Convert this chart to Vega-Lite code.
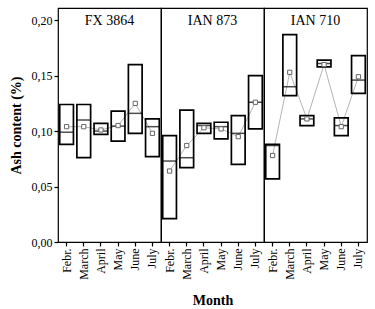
{
  "$schema": "https://vega.github.io/schema/vega-lite/v6.json",
  "padding": {"left": 9, "top": 7, "right": 6, "bottom": 2},
  "bounds": "flush",
  "data": {"values": [
    {"variety": "FX 3864", "month": "Febr.", "q1": 0.088, "q3": 0.124, "median": 0.099, "mean": 0.104},
    {"variety": "FX 3864", "month": "March", "q1": 0.076, "q3": 0.124, "median": 0.110, "mean": 0.104},
    {"variety": "FX 3864", "month": "April", "q1": 0.097, "q3": 0.107, "median": 0.100, "mean": 0.101},
    {"variety": "FX 3864", "month": "May", "q1": 0.091, "q3": 0.118, "median": 0.1045, "mean": 0.105},
    {"variety": "FX 3864", "month": "June", "q1": 0.098, "q3": 0.160, "median": 0.116, "mean": 0.125},
    {"variety": "FX 3864", "month": "July", "q1": 0.077, "q3": 0.111, "median": 0.104, "mean": 0.098},
    {"variety": "IAN 873", "month": "Febr.", "q1": 0.021, "q3": 0.096, "median": 0.073, "mean": 0.064},
    {"variety": "IAN 873", "month": "March", "q1": 0.067, "q3": 0.119, "median": 0.076, "mean": 0.087},
    {"variety": "IAN 873", "month": "April", "q1": 0.098, "q3": 0.107, "median": 0.105, "mean": 0.103},
    {"variety": "IAN 873", "month": "May", "q1": 0.093, "q3": 0.108, "median": 0.104, "mean": 0.102},
    {"variety": "IAN 873", "month": "June", "q1": 0.070, "q3": 0.114, "median": 0.098, "mean": 0.095},
    {"variety": "IAN 873", "month": "July", "q1": 0.102, "q3": 0.150, "median": 0.126, "mean": 0.126},
    {"variety": "IAN 710", "month": "Febr.", "q1": 0.057, "q3": 0.088, "median": 0.087, "mean": 0.078},
    {"variety": "IAN 710", "month": "March", "q1": 0.132, "q3": 0.187, "median": 0.140, "mean": 0.153},
    {"variety": "IAN 710", "month": "April", "q1": 0.105, "q3": 0.114, "median": 0.111, "mean": 0.111},
    {"variety": "IAN 710", "month": "May", "q1": 0.158, "q3": 0.164, "median": 0.161, "mean": 0.160},
    {"variety": "IAN 710", "month": "June", "q1": 0.096, "q3": 0.112, "median": 0.105, "mean": 0.104},
    {"variety": "IAN 710", "month": "July", "q1": 0.134, "q3": 0.168, "median": 0.146, "mean": 0.149}
  ]},
  "facet": {
    "column": {
      "field": "variety",
      "type": "nominal",
      "sort": ["FX 3864", "IAN 873", "IAN 710"],
      "title": "Month",
      "header": {
        "labels": false,
        "titleOrient": "bottom",
        "titleFont": "Liberation Serif",
        "titleFontSize": 14,
        "titleFontWeight": "bold",
        "titleColor": "black",
        "titlePadding": 4
      }
    }
  },
  "spacing": 0,
  "spec": {
    "width": 103,
    "height": 234,
    "encoding": {
      "x": {
        "field": "month",
        "type": "ordinal",
        "sort": ["Febr.", "March", "April", "May", "June", "July"],
        "scale": {"paddingInner": 0.2, "paddingOuter": 0.1},
        "axis": {"title": null, "labelAngle": -90, "labelAlign": "right", "labelBaseline": "middle", "labelPadding": 2}
      }
    },
    "layer": [
      {
        "mark": {"type": "line", "color": "#b5b5b5", "strokeWidth": 1},
        "encoding": {
          "y": {
            "field": "mean",
            "type": "quantitative",
            "scale": {"domain": [0, 0.211], "nice": false},
            "axis": {
              "title": "Ash content (%)",
              "values": [0, 0.025, 0.05, 0.075, 0.1, 0.125, 0.15, 0.175, 0.2],
              "labelExpr": "round(datum.value*40) % 2 == 0 ? replace(format(datum.value, '.2f'), '.', ',') : ''",
              "titleFont": "Liberation Serif",
              "titleFontSize": 14,
              "titleFontWeight": "bold",
              "titleColor": "black",
              "titlePadding": 8
            }
          }
        }
      },
      {
        "mark": {"type": "bar", "fill": "white", "fillOpacity": 0, "stroke": "black", "strokeWidth": 1.7},
        "encoding": {
          "y": {"field": "q1", "type": "quantitative"},
          "y2": {"field": "q3"}
        }
      },
      {
        "mark": {"type": "tick", "color": "black", "thickness": 1.5, "size": 14},
        "encoding": {
          "y": {"field": "median", "type": "quantitative"}
        }
      },
      {
        "mark": {"type": "point", "shape": "square", "size": 18, "filled": true, "fill": "white", "stroke": "#666666", "strokeWidth": 1, "opacity": 1},
        "encoding": {
          "y": {"field": "mean", "type": "quantitative"}
        }
      },
      {
        "transform": [{"filter": "datum.month == 'Febr.'"}],
        "mark": {"type": "text", "font": "Liberation Serif", "fontSize": 14, "color": "black", "baseline": "alphabetic", "align": "center"},
        "encoding": {
          "x": null,
          "y": {"datum": 0.196, "type": "quantitative"},
          "text": {"field": "variety"}
        }
      }
    ]
  },
  "config": {
    "view": {"stroke": "black", "strokeWidth": 1.2},
    "axis": {
      "labelFont": "Liberation Serif",
      "labelFontSize": 12,
      "labelColor": "black",
      "tickColor": "black",
      "tickSize": 4,
      "tickWidth": 1.2,
      "domain": false,
      "grid": false
    }
  }
}
